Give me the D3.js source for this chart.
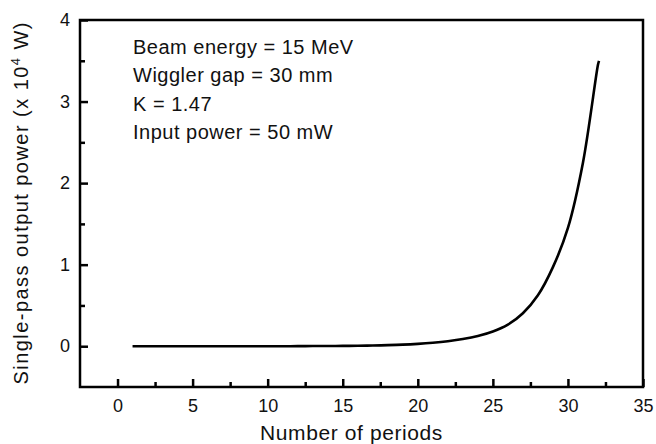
<!DOCTYPE html>
<html>
<head>
<meta charset="utf-8">
<script src="https://cdnjs.cloudflare.com/ajax/libs/d3/7.8.5/d3.min.js"></script>
<style>
  html, body { margin: 0; padding: 0; background: #fff; overflow: hidden; }
  svg { display: block; font-family: Arial, "Liberation Sans", sans-serif; }
</style>
</head>
<body>
<svg id="svg1" width="656" height="444"></svg>
<script>
// periods along the wiggler and the read-off output power (x 10^4 W)
periods = [1, 2, 3, 4, 5, 6, 7, 8, 9, 10, 11, 12, 13, 14, 15, 16,
           17, 18, 19, 20, 21, 22, 23, 24, 25, 26, 27, 28, 29, 30, 31, 32, 32.07];
power = [0, 0, 0, 0, 0, 0, 0, 0, 0, 0, 0, 0.001, 0.002, 0.003, 0.004, 0.006,
         0.009, 0.013, 0.019, 0.029, 0.043, 0.062, 0.088, 0.125, 0.18, 0.265, 0.405, 0.625, 0.97, 1.45, 2.25, 3.45, 3.5];
xTicks = [0, 5, 10, 15, 20, 25, 30, 35];
xMinor = [2.5, 7.5, 12.5, 17.5, 22.5, 27.5, 32.5];
yTicks = [0, 1, 2, 3, 4];
yMinor = [0.5, 1.5, 2.5, 3.5];
notes = ['Beam energy = 15 MeV', 'Wiggler gap = 30 mm', 'K = 1.47', 'Input power = 50 mW'];

chartMargin = { top: 20, right: 13, bottom: 57, left: 80 };

document.addEventListener('DOMContentLoaded', function() {
  chartSvg = d3.select('#svg1');
  chartWidth = +chartSvg.attr('width');
  chartHeight = +chartSvg.attr('height');
  plotWidth = chartWidth - chartMargin.left - chartMargin.right;
  plotHeight = chartHeight - chartMargin.top - chartMargin.bottom;
  drawChart();
});

function drawChart() {
  var xScale = d3.scaleLinear().domain([-2.5, 35]).range([0, plotWidth]);
  var yScale = d3.scaleLinear().domain([-0.5, 4]).range([plotHeight, 0]);

  var g = chartSvg.append('g')
         .attr('transform', `translate(${chartMargin.left},${chartMargin.top})`);

  // minor ticks first, no labels
  var xm = g.append('g')
   .attr('transform', `translate(0,${plotHeight})`)
   .call(d3.axisBottom(xScale).tickValues(xMinor).tickSize(-5).tickFormat(''));
  var ym = g.append('g')
   .call(d3.axisLeft(yScale).tickValues(yMinor).tickSize(-5).tickFormat(''));
  xm.selectAll('text').remove();
  ym.selectAll('text').remove();

  // major ticks, pointing inward
  g.append('g')
   .attr('transform', `translate(0,${plotHeight})`)
   .call(d3.axisBottom(xScale).tickValues(xTicks).tickSize(-8).tickPadding(12)
           .tickFormat(d3.format('d')));
  g.append('g')
   .call(d3.axisLeft(yScale).tickValues(yTicks).tickSize(-8).tickPadding(10)
           .tickFormat(d3.format('d')));

  g.selectAll('.domain').remove();
  g.selectAll('.tick line').attr('stroke', '#000').attr('stroke-width', 2.5);
  g.selectAll('.tick text')
   .attr('fill', '#111')
   .style('font-size', '18px')
   .style('font-family', 'Arial, "Liberation Sans", sans-serif');

  // frame
  g.append('rect')
   .attr('x', 0).attr('y', 0)
   .attr('width', plotWidth).attr('height', plotHeight)
   .style('fill', 'none')
   .style('stroke', '#000')
   .style('stroke-width', 2.5);

  const line = d3.line()
    .x((d, i) => xScale(periods[i]))
    .y(d => yScale(d))
    .curve(d3.curveCatmullRom.alpha(0.5));
  g.append('path')
   .datum(power)
   .style('fill', 'none')
   .style('stroke', '#000')
   .style('stroke-width', 2.6)
   .attr('d', line);

  // parameter notes
  g.selectAll('.note')
   .data(notes)
   .enter()
   .append('text')
   .attr('class', 'note')
   .attr('x', 53)
   .attr('y', (d, i) => 34 + i * 28.3)
   .style('font-size', '20px')
   .style('letter-spacing', '0.5px')
   .style('fill', '#111')
   .text(d => d);

  // axis titles
  g.append('text')
   .attr('x', plotWidth / 2 - 10)
   .attr('y', plotHeight + 53)
   .attr('text-anchor', 'middle')
   .style('font-size', '21px')
   .style('letter-spacing', '0.6px')
   .style('fill', '#111')
   .text('Number of periods');

  var yt = chartSvg.append('text')
   .attr('transform', `translate(28,${chartMargin.top + plotHeight / 2}) rotate(-90)`)
   .attr('text-anchor', 'middle')
   .attr('textLength', 362)
   .attr('lengthAdjust', 'spacing')
   .style('font-size', '20px')
   .style('fill', '#111');
  yt.append('tspan').text('Single-pass output power (x 10');
  yt.append('tspan').attr('dy', -8).style('font-size', '13px').text('4');
  yt.append('tspan').attr('dy', 8).text(' W)');
}
</script>
</body>
</html>
